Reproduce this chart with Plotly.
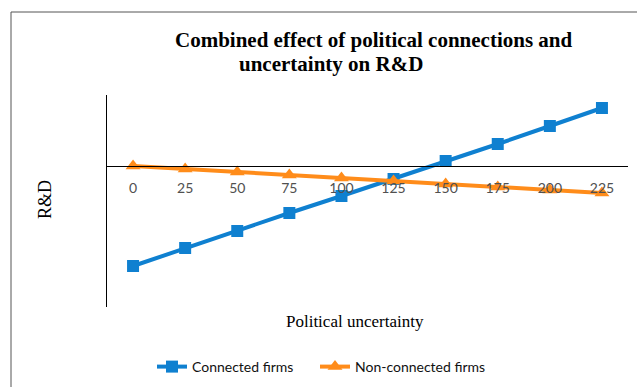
import plotly.graph_objects as go

uncertainty = [0, 25, 50, 75, 100, 125, 150, 175, 200, 225]
connected = [-100, -82, -65, -47, -30, -13, 5, 22, 40, 58]
non_connected = [0, -3, -6, -9, -12, -15, -18, -21, -24, -27]

BLUE = "#0F80D0"
ORANGE = "#FF8C1A"

W, H = 637, 387
L, R, T, B = 107, 9, 95, 80
pw, ph = W - L - R, H - T - B

def px(x):
    return (x - L) / pw

def py(y):
    return (H - B - y) / ph

fig = go.Figure()
fig.add_trace(go.Scatter(x=uncertainty, y=connected, name="Connected firms",
                         mode="lines+markers", legend="legend",
                         line=dict(color=BLUE, width=4),
                         marker=dict(symbol="square", size=12, color=BLUE)))
fig.add_trace(go.Scatter(x=uncertainty, y=non_connected, name="Non-connected firms",
                         mode="lines+markers", legend="legend2",
                         line=dict(color=ORANGE, width=4),
                         marker=dict(symbol="triangle-up", size=13, color=ORANGE)))

legend_font = dict(family="Lato", size=14, color="#111111")
fig.update_layout(
    width=W, height=H,
    margin=dict(l=L, r=R, t=T, b=B, autoexpand=False),
    paper_bgcolor="white", plot_bgcolor="white",
    showlegend=True,
    legend=dict(orientation="h", x=px(152), xanchor="left", y=py(367), yanchor="middle",
                font=legend_font, itemwidth=30),
    legend2=dict(orientation="h", x=px(315), xanchor="left", y=py(367), yanchor="middle",
                 font=legend_font, itemwidth=30),
    xaxis=dict(range=[-12.5, 237.5], tickvals=uncertainty,
               ticktext=[str(v) for v in uncertainty],
               showgrid=False, zeroline=False, showline=True, linecolor="black", linewidth=1,
               anchor="free", position=py(166),
               ticks="outside", ticklen=9, tickcolor="rgba(0,0,0,0)",
               tickfont=dict(family="Lato", size=14, color="#505050")),
    yaxis=dict(range=[-141, 71], showgrid=False, zeroline=False, showline=True,
               linecolor="black", linewidth=1, showticklabels=False, ticks=""),
    font=dict(family="Liberation Serif"),
)

fig.add_annotation(text="<b>Combined effect of political connections and</b>",
                   xref="paper", yref="paper", x=px(173), y=py(40), xanchor="left", yanchor="middle",
                   showarrow=False, font=dict(family="Liberation Serif", size=21, color="black"))
fig.add_annotation(text="<b>uncertainty on R&D</b>",
                   xref="paper", yref="paper", x=px(237), y=py(64), xanchor="left", yanchor="middle",
                   showarrow=False, font=dict(family="Liberation Serif", size=21, color="black"))
fig.add_annotation(text="Political uncertainty",
                   xref="paper", yref="paper", x=px(355), y=py(321), xanchor="center", yanchor="middle",
                   showarrow=False, font=dict(family="Liberation Serif", size=17, color="black"))
fig.add_annotation(text="R&D", textangle=-90,
                   xref="paper", yref="paper", x=px(45), y=py(200), xanchor="center", yanchor="middle",
                   showarrow=False, font=dict(family="Liberation Serif", size=18, color="black"))

# outer frame (left and top edges)
fig.add_shape(type="line", xref="paper", yref="paper", x0=px(11), x1=px(11), y0=py(400), y1=py(12),
              line=dict(color="#555555", width=1))
fig.add_shape(type="line", xref="paper", yref="paper", x0=px(11), x1=px(640), y0=py(12), y1=py(12),
              line=dict(color="#555555", width=1))

fig.write_html("out.html")
